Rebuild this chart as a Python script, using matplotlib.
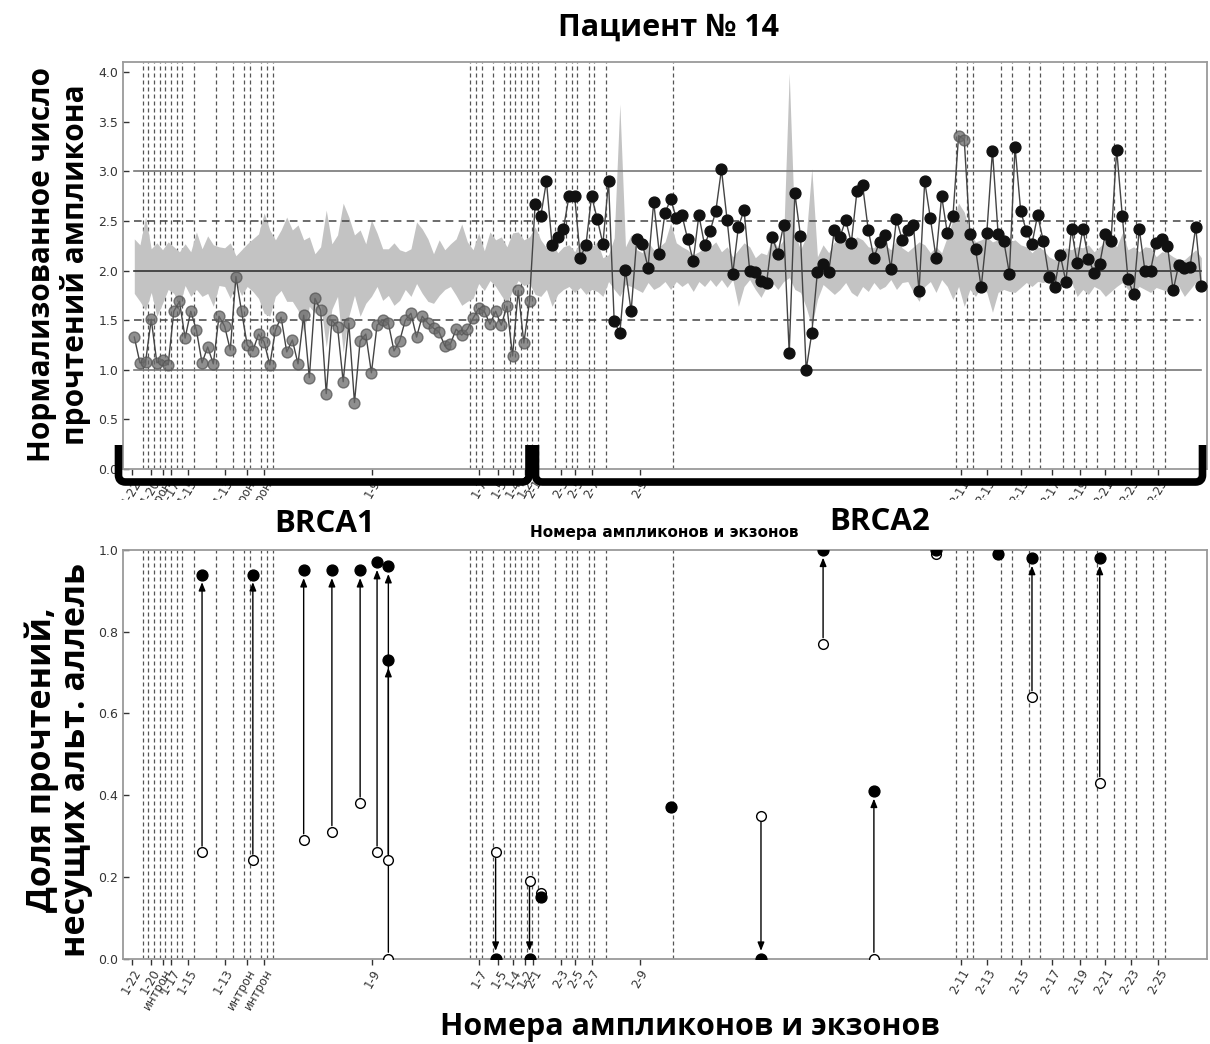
import matplotlib
matplotlib.use("Agg")
import matplotlib.pyplot as plt
from matplotlib.path import Path
from matplotlib.patches import PathPatch, Rectangle

# ---------------- data ----------------
depth = [1.33, 1.07, 1.08, 1.51, 1.07, 1.10, 1.05, 1.59, 1.69, 1.32,
         1.59, 1.40, 1.07, 1.23, 1.06, 1.54, 1.44, 1.20, 1.94, 1.59,
         1.25, 1.19, 1.36, 1.28, 1.05, 1.40, 1.53, 1.18, 1.30, 1.06,
         1.55, 0.92, 1.72, 1.60, 0.76, 1.50, 1.43, 0.88, 1.47, 0.67,
         1.29, 1.36, 0.97, 1.45, 1.50, 1.47, 1.19, 1.29, 1.50, 1.57,
         1.33, 1.54, 1.47, 1.42, 1.38, 1.24, 1.26, 1.41, 1.35, 1.41,
         1.52, 1.62, 1.59, 1.46, 1.59, 1.45, 1.64, 1.14, 1.80, 1.27,
         1.69, 2.67, 2.55, 2.90, 2.26, 2.34, 2.42, 2.75, 2.75, 2.13,
         2.26, 2.75, 2.52, 2.27, 2.90, 1.49, 1.37, 2.01, 1.59, 2.32,
         2.27, 2.03, 2.69, 2.17, 2.58, 2.72, 2.53, 2.56, 2.32, 2.10,
         2.56, 2.26, 2.40, 2.60, 3.02, 2.51, 1.97, 2.44, 2.61, 2.00,
         1.99, 1.90, 1.88, 2.34, 2.17, 2.46, 1.17, 2.78, 2.35, 1.00,
         1.37, 1.99, 2.07, 1.99, 2.41, 2.34, 2.51, 2.28, 2.80, 2.86,
         2.41, 2.13, 2.29, 2.36, 2.02, 2.52, 2.31, 2.41, 2.46, 1.79,
         2.90, 2.53, 2.13, 2.75, 2.38, 2.55, 3.36, 3.32, 2.37, 2.22,
         1.83, 2.38, 3.21, 2.37, 2.30, 1.97, 3.25, 2.60, 2.40, 2.27,
         2.56, 2.30, 1.94, 1.83, 2.16, 1.89, 2.42, 2.08, 2.42, 2.12,
         1.98, 2.07, 2.37, 2.30, 3.22, 2.55, 1.92, 1.76, 2.42, 2.00,
         2.00, 2.28, 2.32, 2.25, 1.80, 2.06, 2.03, 2.04, 2.44, 1.84]

band_upper = [2.32, 2.26, 2.54, 2.22, 2.28, 2.21, 2.29, 2.24, 2.19, 2.27,
              2.19, 2.39, 2.22, 2.35, 2.26, 2.24, 2.23, 2.28, 2.15, 2.21,
              2.27, 2.32, 2.37, 2.58, 2.41, 2.31, 2.41, 2.54, 2.41, 2.46,
              2.31, 2.34, 2.17, 2.24, 2.61, 2.27, 2.36, 2.68, 2.54, 2.36,
              2.41, 2.27, 2.51, 2.38, 2.22, 2.22, 2.28, 2.21, 2.19, 2.22,
              2.49, 2.42, 2.32, 2.17, 2.31, 2.21, 2.27, 2.32, 2.47, 2.29,
              2.21, 2.38, 2.20, 2.39, 2.31, 2.34, 2.24, 2.38, 2.39, 2.31,
              2.34, 2.44, 2.31, 2.23, 2.28, 2.18, 2.24, 2.26, 2.19, 2.29,
              2.19, 2.24, 2.29, 2.13, 2.16, 2.33, 3.68, 2.24, 2.36, 2.21,
              2.18, 2.29, 2.21, 2.24, 2.29, 2.48, 2.28, 2.24, 2.21, 2.16,
              2.19, 2.23, 2.24, 2.29, 2.19, 2.24, 2.14, 2.21, 2.28, 2.24,
              2.13, 2.18, 2.16, 2.33, 2.23, 2.31, 3.99, 2.38, 2.21, 2.34,
              3.03, 2.14, 2.26, 2.18, 2.29, 2.28, 2.34, 2.29, 2.34, 2.31,
              2.24, 2.23, 2.31, 2.26, 2.21, 2.31, 2.23, 2.19, 2.24, 2.29,
              2.26, 2.18, 2.24, 2.18, 2.34, 2.51, 2.68, 2.59, 2.38, 2.29,
              2.31, 2.34, 2.29, 2.31, 2.26, 2.29, 2.31, 2.26, 2.24, 2.18,
              2.24, 2.21, 2.14, 2.11, 2.18, 2.23, 2.21, 2.24, 2.23, 2.26,
              2.19, 2.24, 2.29, 2.31, 2.24, 2.38, 2.21, 2.24, 2.19, 2.24,
              2.23, 2.14, 2.19, 2.18, 2.14, 2.11, 2.11, 2.16, 2.21, 2.13]

band_lower = [1.77, 1.69, 1.60, 1.78, 1.54, 1.67, 1.81, 1.77, 1.65, 1.85,
              1.74, 1.81, 1.74, 1.77, 1.64, 1.85, 1.84, 1.72, 1.87, 1.75,
              1.84, 1.79, 1.72, 1.57, 1.54, 1.74, 1.80, 1.69, 1.69, 1.60,
              1.38, 1.64, 1.57, 1.67, 1.23, 1.61, 1.74, 1.18, 1.54, 1.75,
              1.54, 1.67, 1.74, 1.84, 1.70, 1.75, 1.65, 1.70, 1.81, 1.74,
              1.87, 1.77, 1.69, 1.67, 1.75, 1.81, 1.84, 1.75, 1.65, 1.69,
              1.72, 1.87, 1.80, 1.90, 1.84, 1.75, 1.67, 1.80, 1.90, 1.85,
              1.87, 1.76, 1.74, 1.81, 1.64, 1.76, 1.81, 1.84, 1.78, 1.83,
              1.76, 1.81, 1.79, 1.74, 1.89, 1.81, 1.74, 1.86, 1.84, 1.81,
              1.78, 1.88, 1.81, 1.84, 1.89, 1.81, 1.89, 1.84, 1.88, 1.79,
              1.89, 1.84, 1.91, 1.84, 1.91, 1.83, 1.91, 1.64, 1.84, 1.91,
              1.81, 1.73, 1.84, 1.88, 1.81, 1.89, 1.93, 1.81, 1.78, 1.63,
              1.44, 1.71, 1.86, 1.81, 1.76, 1.81, 1.88, 1.78, 1.74, 1.84,
              1.79, 1.88, 1.81, 1.84, 1.91, 1.81, 1.88, 1.89, 1.78, 1.69,
              1.84, 1.89, 1.78, 1.91, 1.84, 1.71, 1.84, 1.64, 1.81, 1.74,
              1.84, 1.78, 1.58, 1.78, 1.81, 1.79, 1.78, 1.83, 1.88, 1.84,
              1.89, 1.88, 1.91, 1.84, 1.88, 1.84, 1.89, 1.74, 1.81, 1.76,
              1.84, 1.81, 1.74, 1.79, 1.84, 1.88, 1.81, 1.78, 1.84, 1.81,
              1.78, 1.83, 1.81, 1.79, 1.78, 1.84, 1.74, 1.81, 1.88, 1.81]

# amplicons drawn as grey (translucent) markers
grey_amplicons = list(range(0, 71)) + [146, 147]

# exon boundaries (vertical dashed lines), in amplicon index units
exon_bounds = [1.5, 2.5, 3.5, 4.5, 5.5, 6.5, 7.5, 8.5, 10.5, 14.5, 17.5, 19.5,
               20.5, 22.5, 23.5, 24.5, 59.5, 60.5, 61.5, 63.5, 65.5, 66.5, 67.5,
               68.5, 69.5, 70.5, 71.5, 74.5, 76.5, 77.5, 78.5, 80.5, 81.5, 83.5,
               95.5, 145.5, 147.5, 148.5, 153.5, 155.5, 158.5, 160.5, 164.5,
               166.5, 168.5, 170.5, 173.5, 175.5, 177.5, 180.5, 182.5]

tick_pos = [-0.4, 3.0, 5.0, 6.5, 9.5, 16.0, 20.0, 23.0, 42.1, 61.0, 64.5, 67.0,
            69.2, 70.6, 75.5, 78.0, 81.0, 89.5, 146.4, 151.0, 157.0, 162.5,
            167.5, 172.0, 176.5, 181.4]
tick_labels = ["1-22", "1-20", "интрон", "1-17", "1-15", "1-13", "интрон",
               "интрон", "1-9", "1-7", "1-5", "1-4", "1-2", "2-1", "2-3", "2-5",
               "2-7", "2-9", "2-11", "2-13", "2-15", "2-17", "2-19", "2-21",
               "2-23", "2-25"]

# alt-allele fraction: amplicon, value in the first (open) and second (filled) sample
vaf_amplicon = [12, 21, 30, 35, 40, 43, 45, 45, 64, 70, 72, 95, 111, 122, 131, 142, 153, 159, 171]
vaf_open = [0.26, 0.24, 0.29, 0.31, 0.38, 0.26, 0.24, 0.00, 0.26, 0.19, 0.16, 0.37,
            0.35, 0.77, 0.00, 0.99, 0.99, 0.64, 0.43]
vaf_filled = [0.94, 0.94, 0.95, 0.95, 0.95, 0.97, 0.96, 0.73, 0.00, 0.00, 0.15, 0.37,
              0.00, 1.00, 0.41, 1.00, 0.99, 0.98, 0.98]

title = "Пациент № 14"
ylabel_top = "Нормализованное число\nпрочтений ампликона"
ylabel_bottom = "Доля прочтений,\nнесущих альт. аллель"
xlabel = "Номера ампликонов и экзонов"

# ---------------- figure ----------------
W, H = 1210, 1044
fig = plt.figure(figsize=(W / 100, H / 100), dpi=100)
BIG = ["Open Sans", "DejaVu Sans"]


def fx(px):
    return px / W


def fy(py):
    return 1 - py / H


def axes_px(l, t, r, b):
    return fig.add_axes([fx(l), fy(b), fx(r) - fx(l), fy(t) - fy(b)])


n = len(depth)
x = list(range(n))

ax1 = axes_px(123, 62.3, 1207, 469)
ax2 = axes_px(123, 550, 1207, 958.5)

for ax in (ax1, ax2):
    ax.set_xlim(-2, 190)
    for s in ax.spines.values():
        s.set_color("#9a9a9a")
        s.set_linewidth(1.3)
    for xb in exon_bounds:
        ax.axvline(xb, color="#555555", lw=0.9, dashes=(3.2, 2.4), zorder=1)
    ax.set_xticks(tick_pos)
    ax.tick_params(axis="x", direction="out", length=4, width=1, colors="#333333",
                   labelsize=8.5, pad=2)
    ax.tick_params(axis="y", direction="in", length=4, width=1, colors="#333333",
                   labelsize=9)
    ax.set_xticklabels(tick_labels, rotation=60, ha="right", va="top",
                       rotation_mode="anchor")

# top panel tick labels are partly hidden in the original composite
clip_rect = Rectangle((0, fy(500)), 1, 1, transform=fig.transFigure)
for lab in ax1.get_xticklabels():
    lab.set_clip_path(clip_rect)

# ---- top panel ----
ax1.set_ylim(0, 4.1)
ax1.set_yticks([0.0, 0.5, 1.0, 1.5, 2.0, 2.5, 3.0, 3.5, 4.0])
ax1.set_yticklabels(["0.0", "0.5", "1.0", "1.5", "2.0", "2.5", "3.0", "3.5", "4.0"])
ax1.fill_between(x, band_lower, band_upper, color="#c3c3c3", lw=0, zorder=2)
for yv, col in [(1.0, "#777777"), (3.0, "#777777"), (2.0, "#333333")]:
    ax1.plot([0, n - 1], [yv, yv], color=col, lw=1.2, zorder=3)
for yv in (1.5, 2.5):
    ax1.plot([0, n - 1], [yv, yv], color="#444444", lw=1.1, dashes=(5, 3.5), zorder=3)
ax1.plot(x, depth, color="#444444", lw=1.0, zorder=4)
gx = [i for i in x if i in grey_amplicons]
bx = [i for i in x if i not in grey_amplicons]
ax1.plot(gx, [depth[i] for i in gx], "o", ls="none", ms=7.8, mfc="#6a6a6a",
         mec="#555555", alpha=0.75, zorder=5)
ax1.plot(bx, [depth[i] for i in bx], "o", ls="none", ms=7.8, mfc="#111111",
         mec="#111111", zorder=5)

# ---- bottom panel ----
ax2.set_ylim(0, 1.0)
ax2.set_yticks([0.0, 0.2, 0.4, 0.6, 0.8, 1.0])
ax2.set_yticklabels(["0.0", "0.2", "0.4", "0.6", "0.8", "1.0"])
for a, vo, vf in zip(vaf_amplicon, vaf_open, vaf_filled):
    if abs(vf - vo) > 0.05:
        ax2.annotate("", xy=(a, vf), xytext=(a, vo),
                     arrowprops=dict(arrowstyle="-|>,head_length=0.5,head_width=0.2",
                                     color="black", lw=1.0, shrinkA=4.5, shrinkB=5.5),
                     zorder=3)
ax2.plot(vaf_amplicon, vaf_open, "o", ls="none", ms=7, mfc="white", mec="black",
         mew=1.0, zorder=4)
ax2.plot(vaf_amplicon, vaf_filled, "o", ls="none", ms=7.8, mfc="black", mec="black",
         zorder=5)

# ---- texts ----
fig.text(fx(668), fy(28), title, ha="center", va="center", fontsize=22,
         fontweight="bold", family=BIG)
fig.text(fx(59), fy(265), ylabel_top, ha="center", va="center", rotation=90,
         fontsize=21.5, fontweight="bold", family=BIG, linespacing=1.15)
fig.text(fx(59), fy(760), ylabel_bottom, ha="center", va="center", rotation=90,
         fontsize=24.5, fontweight="bold", family=BIG, linespacing=1.0)
fig.text(fx(690), fy(1027), xlabel, ha="center", va="center", fontsize=22,
         fontweight="bold", family=BIG)
fig.text(fx(664), fy(533), xlabel, ha="center", va="center", fontsize=11,
         fontweight="bold", family=["DejaVu Sans"])
fig.text(fx(325), fy(524), "BRCA1", ha="center", va="center", fontsize=22.5,
         fontweight="bold", family=BIG)
fig.text(fx(880), fy(522), "BRCA2", ha="center", va="center", fontsize=22.5,
         fontweight="bold", family=BIG)


# ---- brackets ----
def bracket(x0, x1, ytop, ybot, r=7):
    verts = [(x0, ytop), (x0, ybot - r), (x0, ybot), (x0 + r, ybot),
             (x1 - r, ybot), (x1, ybot), (x1, ybot - r), (x1, ytop)]
    codes = [Path.MOVETO, Path.LINETO, Path.CURVE3, Path.CURVE3,
             Path.LINETO, Path.CURVE3, Path.CURVE3, Path.LINETO]
    verts = [(fx(a), fy(b)) for a, b in verts]
    patch = PathPatch(Path(verts, codes), transform=fig.transFigure, fill=False,
                      lw=5.5, edgecolor="black", capstyle="butt", joinstyle="round",
                      zorder=10)
    fig.add_artist(patch)


bracket(118.5, 529, 445, 482)
bracket(535.5, 1202.5, 445, 482)

fig.savefig("out.png", dpi=100)
